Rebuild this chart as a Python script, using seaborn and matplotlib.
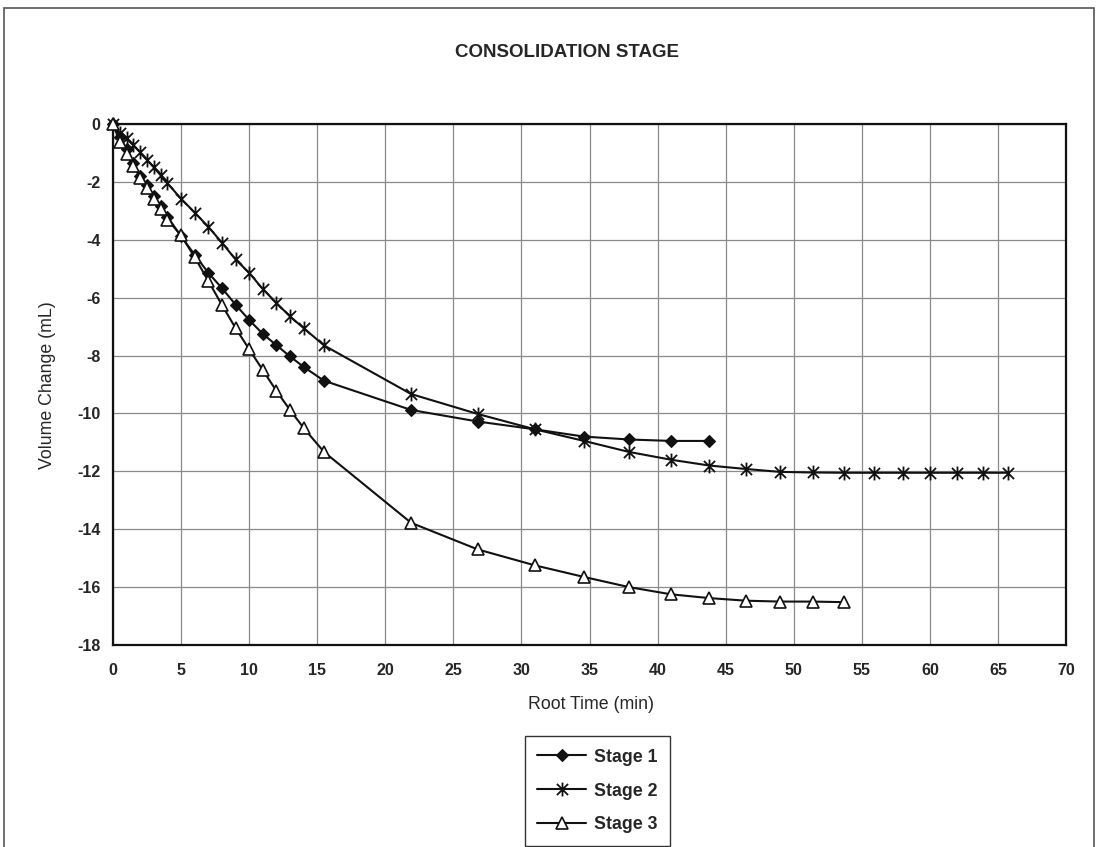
import matplotlib.pyplot as plt
from matplotlib.path import Path
from matplotlib.patches import Rectangle
import seaborn as sns

# Root time (min) vs volume change (mL)
stage1_x = [0, 0.5, 1, 1.5, 2, 2.5, 3, 3.5, 4, 5, 6, 7, 8, 9, 10, 11, 12, 13, 14, 15.5,
            21.9, 26.8, 31.0, 34.6, 37.9, 41.0, 43.8]
stage1_y = [0, -0.45, -0.87, -1.35, -1.78, -2.1, -2.5, -2.85, -3.2, -3.88, -4.52, -5.14, -5.67,
            -6.24, -6.77, -7.25, -7.64, -8.03, -8.39, -8.87,
            -9.88, -10.28, -10.55, -10.8, -10.9, -10.95, -10.95]

stage2_x = [0, 0.5, 1, 1.5, 2, 2.5, 3, 3.5, 4, 5, 6, 7, 8, 9, 10, 11, 12, 13, 14, 15.5,
            21.9, 26.8, 31.0, 34.6, 37.9, 41.0, 43.8, 46.5, 49.0, 51.4, 53.7, 55.9, 58.0,
            60.0, 62.0, 63.9, 65.7]
stage2_y = [0, -0.3, -0.5, -0.73, -0.98, -1.24, -1.5, -1.77, -2.05, -2.58, -3.06, -3.55, -4.1,
            -4.68, -5.14, -5.7, -6.18, -6.65, -7.05, -7.65,
            -9.33, -10.02, -10.55, -10.95, -11.33, -11.6, -11.8, -11.92, -12.02, -12.04, -12.05,
            -12.05, -12.05, -12.05, -12.05, -12.05, -12.05]

stage3_x = [0, 0.5, 1, 1.5, 2, 2.5, 3, 3.5, 4, 5, 6, 7, 8, 9, 10, 11, 12, 13, 14, 15.5,
            21.9, 26.8, 31.0, 34.6, 37.9, 41.0, 43.8, 46.5, 49.0, 51.4, 53.7]
stage3_y = [0, -0.62, -1.05, -1.45, -1.85, -2.2, -2.6, -2.95, -3.3, -3.85, -4.6, -5.42, -6.25,
            -7.05, -7.78, -8.5, -9.22, -9.88, -10.5, -11.33,
            -13.78, -14.7, -15.25, -15.65, -16.0, -16.25, -16.38, -16.47, -16.5, -16.5, -16.52]

x_ticks = list(range(0, 71, 5))
y_ticks = list(range(-18, 1, 2))

sns.set_style('white')
plt.rcParams['font.family'] = ['Liberation Sans', 'DejaVu Sans']
plt.rcParams['axes.unicode_minus'] = False

# excel-like star marker: vertical bar plus an X
star = Path([(0, -1), (0, 1), (-0.8, -0.8), (0.8, 0.8), (-0.8, 0.8), (0.8, -0.8)],
            [Path.MOVETO, Path.LINETO, Path.MOVETO, Path.LINETO, Path.MOVETO, Path.LINETO])

fig = plt.figure(figsize=(10.98, 8.47), dpi=100)
ax = fig.add_axes([0.1029, 0.2385, 0.868, 0.6151])

line_kw = dict(ax=ax, color='#111111', lw=1.5, sort=False, estimator=None,
               legend=False, clip_on=False, zorder=3)
sns.lineplot(x=stage1_x, y=stage1_y, marker='D', markersize=6, markerfacecolor='#111111',
             markeredgecolor='#111111', markeredgewidth=0.8, label='Stage 1', **line_kw)
sns.lineplot(x=stage2_x, y=stage2_y, marker=star, markersize=10, markerfacecolor='none',
             markeredgecolor='#111111', markeredgewidth=1.3, label='Stage 2', **line_kw)
sns.lineplot(x=stage3_x, y=stage3_y, marker='^', markersize=9, markerfacecolor='white',
             markeredgecolor='#111111', markeredgewidth=1.2, label='Stage 3', **line_kw)

ax.set_xlim(0, 70)
ax.set_ylim(-18, 0)
ax.set_xticks(x_ticks)
ax.set_yticks(y_ticks)
ax.grid(True, color='#8a8a8a', lw=0.9)
ax.set_axisbelow(True)
for s in ax.spines.values():
    s.set_color('#111111')
    s.set_linewidth(1.6)
ax.tick_params(axis='both', direction='out', length=4, width=1, color='#111111',
               labelsize=11.5, pad=5)
ax.tick_params(axis='x', pad=9)
for lab in ax.get_xticklabels() + ax.get_yticklabels():
    lab.set_fontweight('bold')
ax.set_xlabel('')
ax.set_ylabel('')

fig.text(0.516, 0.9386, 'CONSOLIDATION STAGE', ha='center', va='center',
         fontsize=13.5, fontweight='bold')
fig.text(0.538, 0.1677, 'Root Time (min)', ha='center', va='center', fontsize=12.8)
fig.text(0.043, 0.545, 'Volume Change (mL)', ha='center', va='center',
         fontsize=12.8, rotation=90)

handles, labels = ax.get_legend_handles_labels()
leg = fig.legend(handles, labels, loc='center', bbox_to_anchor=(0.544, 0.066),
                 frameon=True, fancybox=False, edgecolor='#333333', framealpha=1,
                 prop={'weight': 'bold', 'size': 12.8}, handlelength=2.75,
                 labelspacing=0.95, borderpad=0.7, handletextpad=0.45, borderaxespad=0)
leg.get_frame().set_linewidth(1.0)

fig.patches.append(Rectangle((0.0036, -0.01), 0.9928, 1.0006, transform=fig.transFigure,
                             fill=False, ec='#555555', lw=1.2))

fig.savefig('out.png', dpi=100)
